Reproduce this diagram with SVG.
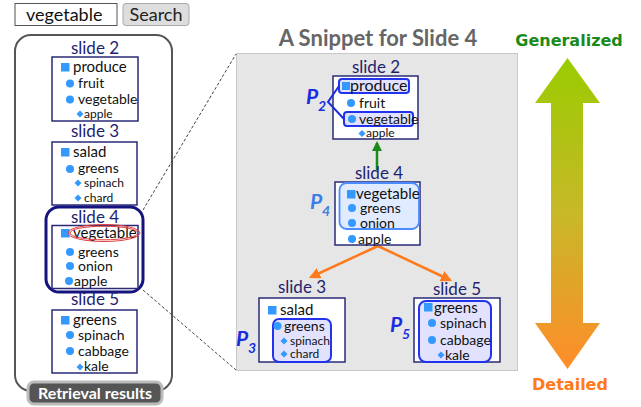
<svg xmlns="http://www.w3.org/2000/svg" width="641" height="407" viewBox="0 0 641 407">
<defs>
<linearGradient id="ag" x1="0" y1="0" x2="0" y2="1">
<stop offset="0" stop-color="#99cc00"/>
<stop offset="0.5" stop-color="#c8b828"/>
<stop offset="1" stop-color="#ff8c2a"/>
</linearGradient>
<marker id="mg" viewBox="0 0 10 10" refX="8" refY="5" markerWidth="4" markerHeight="4" orient="auto"><path d="M0,0 L10,5 L0,10 z" fill="#1a8a1a"/></marker>
<marker id="mo" viewBox="0 0 10 10" refX="8" refY="5" markerWidth="4.5" markerHeight="4.5" orient="auto"><path d="M0,0 L10,5 L0,10 z" fill="#ff7a1a"/></marker>
</defs>
<style>
text{font-family:Lato,"Open Sans",sans-serif;}
.t{font-size:17px;fill:#1f1f70;text-anchor:middle;}
.i1{font-size:15px;fill:#111;}
.i2{font-size:14px;fill:#111;}
.i3{font-size:12px;fill:#111;}
.box{fill:#fff;stroke:#2a2a78;stroke-width:1.5;}
.b{fill:#3399ff;}
.hl{fill:#e2e2ff;stroke:#2233ee;stroke-width:2;}
.hl4{fill:#e0ebff;stroke:#4a8cff;stroke-width:1.8;}
.p{font-size:21px;font-weight:bold;font-style:italic;fill:#1a2de0;}
.ps{font-size:14px;font-weight:bold;font-style:italic;fill:#1a2de0;}
.dash{stroke:#444;stroke-width:1;stroke-dasharray:3,2;fill:none;}
</style>
<rect width="641" height="407" fill="#fff"/>

<g id="search">
<rect x="15" y="3.5" width="102" height="22" fill="#fff" stroke="#555" stroke-width="1"/>
<text x="26" y="20.5" style="font-size:18px;fill:#111">vegetable</text>
<rect x="123" y="3.5" width="66" height="22" rx="3" fill="#ddd" stroke="#aaa" stroke-width="1"/>
<text x="156" y="20.5" style="font-size:18px;fill:#222;text-anchor:middle">Search</text>
</g>

<g id="left-panel">
<rect x="15" y="35" width="157" height="356" rx="16" fill="#fff" stroke="#555" stroke-width="2"/>
<rect x="28" y="382" width="134" height="22" rx="6" fill="#555" stroke="#bbb" stroke-width="3"/>
<text x="95" y="398.5" style="font-size:16px;font-weight:bold;fill:#fff;text-anchor:middle">Retrieval results</text>
</g>

<g id="left-slide2">
<text class="t" x="95" y="54">slide 2</text>
<rect class="box" x="52" y="57" width="86" height="64"/>
<rect class="b" x="61" y="63" width="8.5" height="8.5"/>
<text class="i1" x="73" y="72">produce</text>
<circle class="b" cx="70" cy="83.5" r="4"/>
<text class="i2" x="78" y="88">fruit</text>
<circle class="b" cx="70" cy="99.5" r="4"/>
<text class="i2" x="78" y="104">vegetable</text>
<path class="b" d="M80,110.5 l3.5,3.5 l-3.5,3.5 l-3.5,-3.5 z"/>
<text class="i3" x="84" y="118">apple</text>
</g>

<g id="left-slide3">
<text class="t" x="95" y="137">slide 3</text>
<rect class="box" x="52" y="142" width="85" height="63"/>
<rect class="b" x="61" y="148" width="8.5" height="8.5"/>
<text class="i1" x="73" y="157">salad</text>
<circle class="b" cx="70" cy="169" r="4"/>
<text class="i2" x="78" y="173">greens</text>
<path class="b" d="M78,179.5 l3.5,3.5 l-3.5,3.5 l-3.5,-3.5 z"/>
<text class="i3" x="84" y="187">spinach</text>
<path class="b" d="M78,194.5 l3.5,3.5 l-3.5,3.5 l-3.5,-3.5 z"/>
<text class="i3" x="84" y="202">chard</text>
</g>

<g id="left-slide4">
<rect x="46" y="207" width="97" height="85" rx="13" fill="#fff" stroke="#14147e" stroke-width="3"/>
<text class="t" x="95" y="223">slide 4</text>
<rect class="box" x="52" y="225.5" width="86" height="63"/>
<rect class="b" x="61" y="229" width="8.5" height="8.5"/>
<text class="i1" x="73" y="238">vegetable</text>
<ellipse cx="104" cy="233" rx="36" ry="8.5" fill="none" stroke="#e04040" stroke-width="1"/>
<ellipse cx="104" cy="233" rx="34" ry="6.8" fill="none" stroke="#e04040" stroke-width="1"/>
<circle class="b" cx="70" cy="252" r="4"/>
<text class="i2" x="78" y="257">greens</text>
<circle class="b" cx="70" cy="266" r="4"/>
<text class="i2" x="78" y="271">onion</text>
<circle class="b" cx="69" cy="281" r="4"/>
<text class="i2" x="74" y="286">apple</text>
</g>

<g id="left-slide5">
<text class="t" x="95" y="305">slide 5</text>
<rect class="box" x="52" y="310" width="85" height="63"/>
<rect class="b" x="61" y="316" width="8.5" height="8.5"/>
<text class="i1" x="73" y="325">greens</text>
<circle class="b" cx="70" cy="335" r="4"/>
<text class="i2" x="78" y="340">spinach</text>
<circle class="b" cx="70" cy="351" r="4"/>
<text class="i2" x="78" y="356">cabbage</text>
<path class="b" d="M80,363.5 l3.5,3.5 l-3.5,3.5 l-3.5,-3.5 z"/>
<text class="i2" x="84" y="371">kale</text>
</g>

<g id="snippet-area">
<rect x="236.5" y="53.5" width="281" height="317" fill="#e6e6e6" stroke="#c8c8c8" stroke-width="1"/>
<text x="378" y="46" style="font-size:22px;font-weight:bold;fill:#666;text-anchor:middle">A Snippet for Slide 4</text>
</g>

<g id="connectors">
<line class="dash" x1="143" y1="210" x2="236" y2="54"/>
<line class="dash" x1="143" y1="290" x2="236" y2="370"/>
<line x1="377" y1="170" x2="377" y2="143" stroke="#1a8a1a" stroke-width="2.5" marker-end="url(#mg)"/>
<line x1="378" y1="246" x2="311" y2="277" stroke="#ff7a1a" stroke-width="2.5" marker-end="url(#mo)"/>
<line x1="378" y1="246" x2="450" y2="280" stroke="#ff7a1a" stroke-width="2.5" marker-end="url(#mo)"/>
</g>

<g id="right-slide2">
<text class="t" x="376" y="73">slide 2</text>
<rect class="box" x="333" y="76" width="85" height="63"/>
<rect class="hl" x="339" y="79" width="70" height="14" rx="3"/>
<rect class="hl" x="344" y="112" width="69" height="14" rx="3"/>
<path d="M339,86 L328,102 L344,119" fill="none" stroke="#1a2de0" stroke-width="2"/>
<text class="p" x="306" y="104">P</text><text class="ps" x="318" y="111">2</text>
<rect class="b" x="342" y="82" width="8" height="8"/>
<text class="i1" x="350" y="91" style="font-size:16px">produce</text>
<circle class="b" cx="351" cy="103" r="4"/>
<text class="i2" x="359" y="108">fruit</text>
<circle class="b" cx="352" cy="119" r="4"/>
<text class="i2" x="359" y="124">vegetable</text>
<path class="b" d="M362,130 l3.5,3.5 l-3.5,3.5 l-3.5,-3.5 z"/>
<text class="i3" x="366" y="137">apple</text>
</g>

<g id="right-slide4">
<text class="t" x="379" y="179">slide 4</text>
<rect class="box" x="335" y="182" width="85" height="63"/>
<rect class="hl4" x="339.5" y="183" width="79.5" height="46" rx="7"/>
<rect class="b" x="347" y="190" width="8.5" height="8.5"/>
<text class="i1" x="356" y="199">vegetable</text>
<circle class="b" cx="352" cy="208" r="4"/>
<text class="i2" x="360" y="213">greens</text>
<circle class="b" cx="352" cy="223" r="4"/>
<text class="i2" x="360" y="228">onion</text>
<circle class="b" cx="352" cy="239" r="4"/>
<text class="i2" x="358" y="244">apple</text>
<text class="p" x="310" y="209" style="fill:#3a7ee8">P</text><text class="ps" x="322" y="216" style="fill:#3a7ee8">4</text>
</g>

<g id="right-slide3">
<text class="t" x="302" y="293">slide 3</text>
<rect class="box" x="259" y="298" width="86" height="64"/>
<rect class="hl" x="273" y="319" width="58" height="43" rx="6"/>
<rect class="b" x="268" y="306" width="8.5" height="8.5"/>
<text class="i1" x="280" y="315">salad</text>
<circle class="b" cx="277.5" cy="326" r="4"/>
<text class="i2" x="284" y="331">greens</text>
<path class="b" d="M284,337.5 l3.5,3.5 l-3.5,3.5 l-3.5,-3.5 z"/>
<text class="i3" x="290" y="345">spinach</text>
<path class="b" d="M284,350.5 l3.5,3.5 l-3.5,3.5 l-3.5,-3.5 z"/>
<text class="i3" x="290" y="358">chard</text>
<text class="p" x="236" y="346">P</text><text class="ps" x="248" y="353">3</text>
</g>

<g id="right-slide5">
<text class="t" x="457" y="295">slide 5</text>
<rect class="box" x="414" y="298" width="86" height="64"/>
<rect class="hl" x="419" y="301" width="72" height="61" rx="7"/>
<rect class="b" x="424" y="303" width="8.5" height="8.5"/>
<text class="i1" x="434" y="313">greens</text>
<circle class="b" cx="432" cy="323" r="4"/>
<text class="i2" x="440" y="328">spinach</text>
<circle class="b" cx="432" cy="340" r="4"/>
<text class="i2" x="440" y="345">cabbage</text>
<path class="b" d="M441,351.5 l3.5,3.5 l-3.5,3.5 l-3.5,-3.5 z"/>
<text class="i2" x="445" y="360">kale</text>
<text class="p" x="390" y="332">P</text><text class="ps" x="402" y="339">5</text>
</g>

<g id="scale-arrow">
<path d="M567.5,58 L600,103 L583,103 L583,323 L600,323 L567.5,369 L535,323 L551,323 L551,103 L535,103 Z" fill="url(#ag)"/>
<text x="569" y="46" style="font-family:'DejaVu Sans',sans-serif;font-size:16px;font-weight:bold;fill:#1a8a1a;text-anchor:middle">Generalized</text>
<text x="570" y="390" style="font-family:'DejaVu Sans',sans-serif;font-size:16px;font-weight:bold;fill:#ff7a1a;text-anchor:middle">Detailed</text>
</g>
</svg>
